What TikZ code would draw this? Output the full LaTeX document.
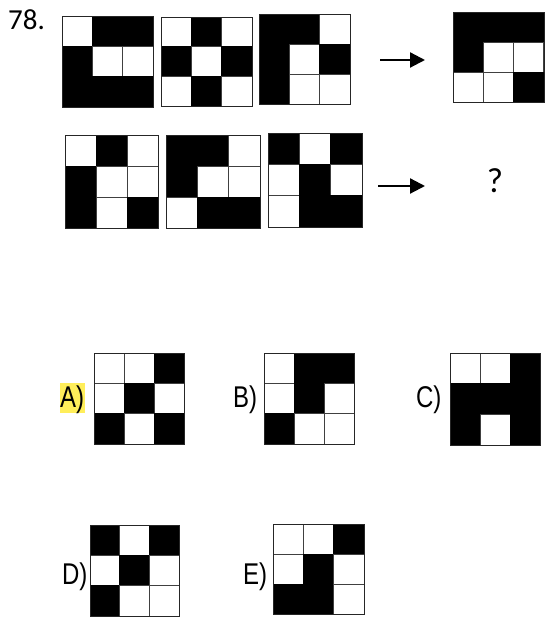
\documentclass[tikz,border=0pt]{standalone}
\usepackage{fontspec}
\usetikzlibrary{arrows.meta}
\newfontfamily\carl{Carlito}
\newfontfamily\ari{Liberation Sans}
\definecolor{hl}{RGB}{255,238,90}
\tikzset{
  frame/.style={draw=black!85, line width=0.9pt, inner sep=0pt, anchor=north west},
  cell/.style={line width=0.7pt},
  arr/.style={line width=2.2pt, -{Triangle[length=15pt,width=15pt]}},
  num/.style={font=\carl\fontsize{29}{32}\selectfont, inner sep=0pt},
  qmark/.style={font=\carl\fontsize{35}{38}\selectfont, inner sep=0pt},
  lab/.style={font=\ari\fontsize{30}{32}\selectfont, inner sep=0pt}
}
% name, x, y (from top), width, height, pattern
\newcommand\qgrid[6]{%
  \begin{scope}[shift={(#2pt,-#3pt)}]
    \foreach \v [count=\i from 0] in {#6} {
      \pgfmathtruncatemacro\rr{\i/3}
      \pgfmathtruncatemacro\cc{mod(\i,3)}
      \ifnum\v=1 \def\fc{black}\def\dc{black}\else\def\fc{white}\def\dc{black!75}\fi
      \filldraw[cell, fill=\fc, draw=\dc] ({\cc*#4/3*1pt},{-\rr*#5/3*1pt}) rectangle ++({#4/3*1pt},{-#5/3*1pt});
    }
    \node[frame, minimum width=#4pt, minimum height=#5pt] (#1) at (0,0) {};
  \end{scope}%
}
\begin{document}
\begin{tikzpicture}
\useasboundingbox (0,0) rectangle (544pt,-617pt);
% question number
\node[num, anchor=base west] (qn) at (8pt,-30pt) {78.};
% row 1
\qgrid{g1}{62}{16}{91}{91}{0,1,1, 1,0,0, 1,1,1}
\qgrid{g2}{161}{17}{91}{89}{0,1,0, 1,0,1, 0,1,0}
\qgrid{g3}{259}{14}{91}{90}{1,1,0, 1,0,1, 1,0,0}
\qgrid{g4}{453}{12}{90.5}{90}{1,1,1, 1,0,0, 0,0,1}
\coordinate (a1s) at (380pt,-60pt);
\coordinate (a1e) at (425pt,-60pt);
\draw[arr] (a1s) -- (a1e);
% row 2
\qgrid{h1}{65}{135}{93}{93}{0,1,0, 1,0,0, 1,0,1}
\qgrid{h2}{166}{135}{94}{93}{1,1,0, 1,0,0, 0,1,1}
\qgrid{h3}{268}{133}{94}{94}{1,0,1, 0,1,0, 0,1,1}
\coordinate (a2s) at (378pt,-186pt);
\coordinate (a2e) at (425pt,-186pt);
\draw[arr] (a2s) -- (a2e);
\node[qmark, anchor=base] (qm) at (495pt,-193pt) {?};
% options
\fill[hl] (60pt,-383pt) rectangle (85pt,-413pt);
\node[lab, anchor=base west, xscale=0.8] (la) at (60pt,-407pt) {A)};
\qgrid{oa}{94}{353}{90}{91}{0,0,1, 0,1,0, 1,0,1}
\node[lab, anchor=base west, xscale=0.8] (lb) at (233pt,-407pt) {B)};
\qgrid{ob}{264}{353}{90}{91}{0,1,1, 0,1,0, 1,0,0}
\node[lab, anchor=base west, xscale=0.8] (lc) at (416pt,-407pt) {C)};
\qgrid{oc}{450}{353}{90}{92}{0,0,1, 1,1,1, 1,0,1}
\node[lab, anchor=base west, xscale=0.8] (ld) at (62pt,-584pt) {D)};
\qgrid{od}{90}{525}{89}{91}{1,0,1, 0,1,0, 1,0,0}
\node[lab, anchor=base west, xscale=0.8] (le) at (243pt,-584pt) {E)};
\qgrid{oe}{273}{524}{91}{90}{0,0,1, 0,1,0, 1,1,0}
\end{tikzpicture}
\end{document}
